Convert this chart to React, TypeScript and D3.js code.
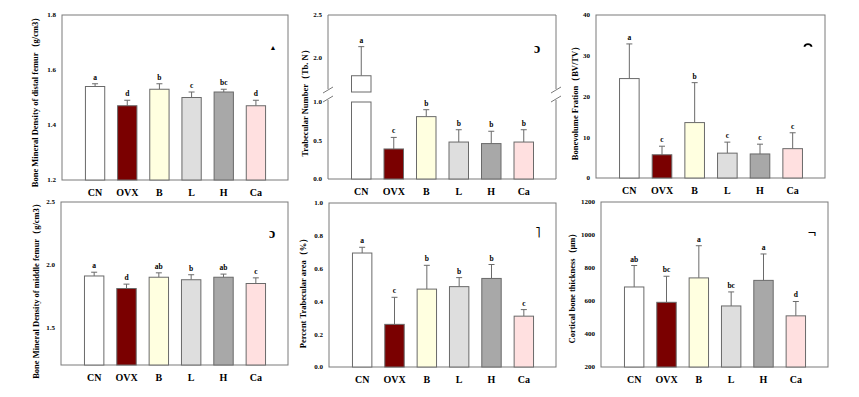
import React from "react";
import * as d3 from "d3";

// groups and fill colours
const groups = ["CN", "OVX", "B", "L", "H", "Ca"];
const groupColors = ["#ffffff", "#7a0000", "#ffffe0", "#dedede", "#a8a8a8", "#ffe0e0"];

// A: BMD distal femur
const distalBMD = [1.54, 1.47, 1.53, 1.5, 1.52, 1.47];
const distalBMDErr = [0.01, 0.02, 0.02, 0.02, 0.01, 0.02];
const distalBMDLetters = ["a", "d", "b", "c", "bc", "d"];
const distalBMDTicks = [1.2, 1.4, 1.6, 1.8];

// B: trabecular number (broken axis)
const tbN = [1.79, 0.39, 0.81, 0.48, 0.46, 0.48];
const tbNErr = [0.34, 0.15, 0.09, 0.16, 0.16, 0.16];
const tbNLetters = ["a", "c", "b", "b", "b", "b"];
const tbNTicksLow = [0, 0.5, 1.0];
const tbNTicksHigh = [2.0, 2.5];

// C: BV/TV
const bvtv = [24.4, 5.7, 13.6, 6.1, 5.9, 7.2];
const bvtvErr = [8.5, 2.1, 9.8, 2.7, 2.4, 3.9];
const bvtvLetters = ["a", "c", "b", "c", "c", "c"];
const bvtvTicks = [0, 10, 20, 30, 40];

// D: BMD middle femur
const middleBMD = [1.91, 1.81, 1.9, 1.88, 1.9, 1.85];
const middleBMDErr = [0.03, 0.035, 0.035, 0.04, 0.025, 0.045];
const middleBMDLetters = ["a", "d", "ab", "b", "ab", "c"];
const middleBMDTicks = [1.5, 2.0, 2.5];

// E: percent trabecular area
const trabArea = [0.695, 0.26, 0.475, 0.49, 0.54, 0.31];
const trabAreaErr = [0.035, 0.165, 0.145, 0.055, 0.085, 0.04];
const trabAreaLetters = ["a", "c", "b", "b", "b", "c"];
const trabAreaTicks = [0, 0.2, 0.4, 0.6, 0.8, 1.0];

// F: cortical thickness
const cortical = [685, 592, 740, 570, 725, 510];
const corticalErr = [130, 158, 195, 85, 160, 87];
const corticalLetters = ["ab", "bc", "a", "bc", "a", "d"];
const corticalTicks = [200, 400, 600, 800, 1000, 1200];

const FONT = "'Liberation Serif', 'Times New Roman', serif";
const AXIS = "#7a7a7a";
const EDGE = "#6a6a6a";

type PanelProps = {
  left: number; right: number; top: number; bottom: number;
  domain: [number, number];
  ticks: number[];
  fmt: (v: number) => string;
  values: number[]; errs: number[]; letters: string[];
  title: string; titleX: number; titleY: number;
  marker: string; markerX: number; markerY: number; markerSize?: number;
};

// small arc glyph used as panel mark
const arcMark = d3.arc()({ innerRadius: 3, outerRadius: 4.8, startAngle: -1.25, endAngle: 1.25 }) as string;

function Panel(p: PanelProps) {
  const x = d3.scaleBand<string>().domain(groups).range([p.left + 17, p.right - 16]).paddingInner(0.4).paddingOuter(0.2);
  const y = d3.scaleLinear().domain(p.domain).range([p.bottom, p.top]);
  const bw = x.bandwidth();
  return (
    <g>
      <rect x={p.left} y={p.top} width={p.right - p.left} height={p.bottom - p.top} fill="none" stroke={AXIS} strokeWidth={1} />
      {p.ticks.map((t) => (
        <text key={t} x={p.left - 6} y={y(t)} dy="0.35em" textAnchor="end" fontSize={7} fontWeight="bold" fontFamily={FONT}>{p.fmt(t)}</text>
      ))}
      {groups.map((g, i) => {
        const cx = (x(g) as number) + bw / 2;
        const top = y(p.values[i]);
        const et = y(p.values[i] + p.errs[i]);
        return (
          <g key={g}>
            <line x1={cx} x2={cx} y1={top} y2={et} stroke={EDGE} strokeWidth={1} />
            <line x1={cx - 3} x2={cx + 3} y1={et} y2={et} stroke={EDGE} strokeWidth={1} />
            <rect x={x(g)} y={top} width={bw} height={p.bottom - top} fill={groupColors[i]} stroke={EDGE} strokeWidth={1} />
            <text x={cx} y={et - 4} textAnchor="middle" fontSize={7.5} fontWeight="bold" fontFamily={FONT} fill="#000">{p.letters[i]}</text>
            <text x={cx} y={p.bottom + 16} textAnchor="middle" fontSize={10} fontWeight="bold" fontFamily={FONT}>{g}</text>
          </g>
        );
      })}
      <text transform={`translate(${p.titleX},${p.titleY}) rotate(-90)`} textAnchor="middle" dy="0.35em" fontSize={8.5} fontWeight="bold" fontFamily={FONT}>{p.title}</text>
      {p.marker === "arc" ? (
        <path d={arcMark} transform={`translate(${p.markerX},${p.markerY + 2})`} fill="#000" />
      ) : (
        <text x={p.markerX} y={p.markerY} dy="0.35em" textAnchor="middle" fontSize={p.markerSize ?? 13} fontWeight="bold" fontFamily={FONT}>{p.marker}</text>
      )}
    </g>
  );
}

// panel B: broken y axis 0–1.0 / 1.6–2.5
function BrokenPanel() {
  const left = 328, right = 556, top = 15, bottom = 179;
  const low = d3.scaleLinear().domain([0, 1.0]).range([bottom, 102]);
  const high = d3.scaleLinear().domain([1.6, 2.5]).range([92, top]);
  const y = (v: number) => (v <= 1.0 ? low(v) : high(v));
  const x = d3.scaleBand<string>().domain(groups).range([left + 17, right - 16]).paddingInner(0.4).paddingOuter(0.2);
  const bw = x.bandwidth();
  const gapTop = 89, gapBot = 100;
  const slash = (ax: number, yy: number) => (
    <line x1={ax - 5} y1={yy + 3} x2={ax + 5} y2={yy - 3} stroke={AXIS} strokeWidth={1} />
  );
  return (
    <g>
      <line x1={left} x2={right} y1={top} y2={top} stroke={AXIS} />
      <line x1={left} x2={right} y1={bottom} y2={bottom} stroke={AXIS} />
      {[left, right].map((ax) => (
        <g key={ax}>
          <line x1={ax} x2={ax} y1={top} y2={gapTop} stroke={AXIS} />
          <line x1={ax} x2={ax} y1={gapBot} y2={bottom} stroke={AXIS} />
          {slash(ax, gapTop + 1)}
          {slash(ax, gapBot - 1)}
        </g>
      ))}
      {[...tbNTicksLow, ...tbNTicksHigh].map((t) => (
        <text key={t} x={left - 6} y={y(t)} dy="0.35em" textAnchor="end" fontSize={7} fontWeight="bold" fontFamily={FONT}>{d3.format(".1f")(t)}</text>
      ))}
      {groups.map((g, i) => {
        const bx = x(g) as number;
        const cx = bx + bw / 2;
        const v = tbN[i];
        const et = y(v + tbNErr[i]);
        return (
          <g key={g}>
            <line x1={cx} x2={cx} y1={y(v)} y2={et} stroke={EDGE} />
            <line x1={cx - 3} x2={cx + 3} y1={et} y2={et} stroke={EDGE} />
            {v > 1.0 ? (
              <>
                <rect x={bx} y={low(1.0)} width={bw} height={bottom - low(1.0)} fill={groupColors[i]} stroke={EDGE} />
                <rect x={bx} y={high(v)} width={bw} height={high(1.6) - high(v)} fill={groupColors[i]} stroke={EDGE} />
              </>
            ) : (
              <rect x={bx} y={low(v)} width={bw} height={bottom - low(v)} fill={groupColors[i]} stroke={EDGE} />
            )}
            <text x={cx} y={et - 4} textAnchor="middle" fontSize={7.5} fontWeight="bold" fontFamily={FONT}>{tbNLetters[i]}</text>
            <text x={cx} y={bottom + 16} textAnchor="middle" fontSize={10} fontWeight="bold" fontFamily={FONT}>{g}</text>
          </g>
        );
      })}
      <text transform="translate(305,101) rotate(-90)" textAnchor="middle" dy="0.35em" fontSize={8.5} fontWeight="bold" fontFamily={FONT}>Trabecular Number（Tb. N）</text>
      <text x={537} y={48} dy="0.35em" textAnchor="middle" fontSize={14} fontWeight="bold" fontFamily={FONT}>ɔ</text>
    </g>
  );
}

export default function App() {
  const f1 = d3.format(".1f");
  const f0 = d3.format("d");
  return (
    <svg width={859} height={397} style={{ position: "absolute", left: 0, top: 0, background: "#fff" }}>
      <Panel left={62} right={288} top={15} bottom={180} domain={[1.2, 1.8]} ticks={distalBMDTicks} fmt={f1}
        values={distalBMD} errs={distalBMDErr} letters={distalBMDLetters}
        title="Bone Mineral Density of distal femur（g/cm3）" titleX={35} titleY={100}
        marker="▲" markerX={273} markerY={48} markerSize={7} />
      <BrokenPanel />
      <Panel left={596} right={825} top={15} bottom={178} domain={[0, 40]} ticks={bvtvTicks} fmt={f0}
        values={bvtv} errs={bvtvErr} letters={bvtvLetters}
        title="Bonevolume Fration（BV/TV）" titleX={575} titleY={101}
        marker="arc" markerX={808} markerY={46} />
      <Panel left={61} right={288} top={202} bottom={365} domain={[1.2, 2.5]} ticks={middleBMDTicks} fmt={f1}
        values={middleBMD} errs={middleBMDErr} letters={middleBMDLetters}
        title="Bone Mineral Density of middle femur（g/cm3）" titleX={36} titleY={289}
        marker="ɔ" markerX={272} markerY={233} markerSize={14} />
      <Panel left={329} right={556} top={203} bottom={367} domain={[0, 1.0]} ticks={trabAreaTicks} fmt={f1}
        values={trabArea} errs={trabAreaErr} letters={trabAreaLetters}
        title="Percent Trabecular area（%）" titleX={303} titleY={291}
        marker="˥" markerX={538} markerY={233} markerSize={14} />
      <Panel left={601} right={828} top={202} bottom={367} domain={[200, 1200]} ticks={corticalTicks} fmt={f0}
        values={cortical} errs={corticalErr} letters={corticalLetters}
        title="Cortical bone thickness（μm）" titleX={572} titleY={286}
        marker="¬" markerX={812} markerY={233} markerSize={15} />
    </svg>
  );
}
